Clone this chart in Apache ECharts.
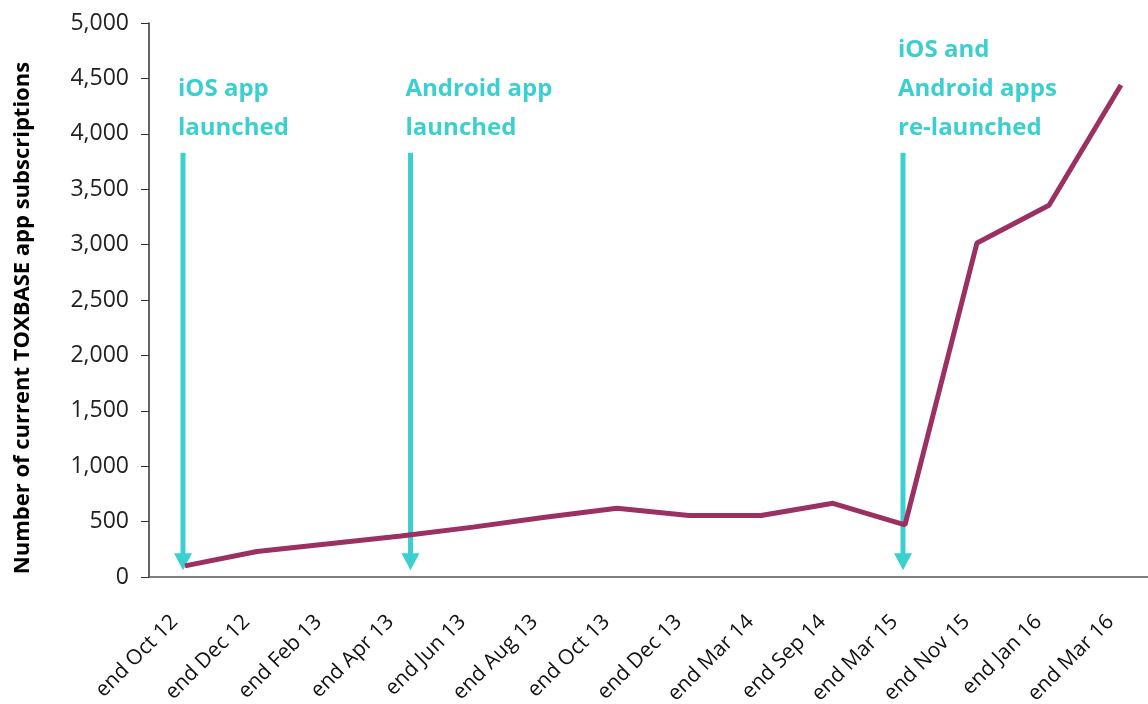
<!DOCTYPE html>
<html>
<head>
<meta charset="utf-8">
<script src="https://cdn.jsdelivr.net/npm/echarts@6/dist/echarts.min.js"></script>
<style>
  html, body { margin: 0; padding: 0; background: #fff; }
  #chart { width: 1148px; height: 704px; }
</style>
</head>
<body>
<div id="chart"></div>
<script>
var categories = ['end Oct 12', 'end Dec 12', 'end Feb 13', 'end Apr 13', 'end Jun 13',
  'end Aug 13', 'end Oct 13', 'end Dec 13', 'end Mar 14', 'end Sep 14',
  'end Mar 15', 'end Nov 15', 'end Jan 16', 'end Mar 16'];
var subscriptions = [100, 230, 300, 370, 450, 540, 620, 555, 555, 665, 470, 3015, 3355, 4440];
var yTicks = [0, 500, 1000, 1500, 2000, 2500, 3000, 3500, 4000, 4500, 5000];

// annotations: category position (index, may fall between categories) and text lines
var notes = [
  {at: 0,    lines: ['iOS app', 'launched']},
  {at: 3.16, lines: ['Android app', 'launched']},
  {at: 10,   lines: ['iOS and', 'Android apps', 're-launched']}
];
var arrowTop = 3830, arrowTip = 60;

var teal = '#3ccfcf';
var chart = echarts.init(document.getElementById('chart'));

function fmt(v) {
  return v.toString().replace(/\B(?=(\d{3})+(?!\d))/g, ',');
}

chart.setOption({
  animation: false,
  grid: {left: 149, width: 1008, top: 23, bottom: 127, outerBoundsMode: 'none'},
  xAxis: {
    type: 'category',
    data: categories,
    boundaryGap: true,
    axisLine: {lineStyle: {color: '#555', width: 1.5}},
    axisTick: {length: 8, lineStyle: {color: '#333'}},
    axisLabel: {
      rotate: 45, margin: 31, color: '#111', padding: [0, 15, 0, 0],
      fontFamily: 'Open Sans', fontSize: 21
    }
  },
  yAxis: {
    type: 'value',
    min: yTicks[0], max: yTicks[yTicks.length - 1], interval: 500,
    name: 'Number of current TOXBASE app subscriptions',
    nameLocation: 'middle', nameRotate: 90, nameGap: 115,
    nameTextStyle: {
      fontFamily: 'Open Sans', fontWeight: 'bold', fontSize: 22, color: '#000',
      padding: [0, 36, 0, 0]
    },
    axisLine: {show: true, lineStyle: {color: '#333', width: 1.5}},
    axisTick: {show: true, length: 8, lineStyle: {color: '#333'}},
    splitLine: {show: false},
    axisLabel: {
      margin: 20, color: '#222', fontFamily: 'Open Sans', fontSize: 23,
      formatter: fmt
    }
  },
  series: [{
    type: 'line',
    data: subscriptions,
    symbol: 'none',
    lineStyle: {color: '#9b3063', width: 5}
  }]
});

function xPix(at) {
  var i = Math.floor(at), f = at - i;
  var a = chart.convertToPixel({xAxisIndex: 0}, i);
  if (f === 0) return a;
  var b = chart.convertToPixel({xAxisIndex: 0}, i + 1);
  return a + (b - a) * f;
}

var yTop = chart.convertToPixel({yAxisIndex: 0}, arrowTop);
var yTip = chart.convertToPixel({yAxisIndex: 0}, arrowTip);
var graphics = [];
notes.forEach(function(n) {
  var x = xPix(n.at) - 2;
  graphics.push({
    type: 'line', silent: true,
    shape: {x1: x, y1: yTop, x2: x, y2: yTip - 14},
    style: {stroke: teal, lineWidth: 5}
  });
  graphics.push({
    type: 'polygon', silent: true,
    shape: {points: [[x - 9, yTip - 17], [x + 9, yTip - 17], [x, yTip]]},
    style: {fill: teal}
  });
  graphics.push({
    type: 'text', silent: true,
    x: x - 5, y: yTop - 5,
    style: {
      text: n.lines.join('\n'), fill: teal,
      font: 'bold 24px "Open Sans"', lineHeight: 39,
      textVerticalAlign: 'bottom', verticalAlign: 'bottom'
    }
  });
});
chart.setOption({graphic: graphics});
</script>
</body>
</html>
